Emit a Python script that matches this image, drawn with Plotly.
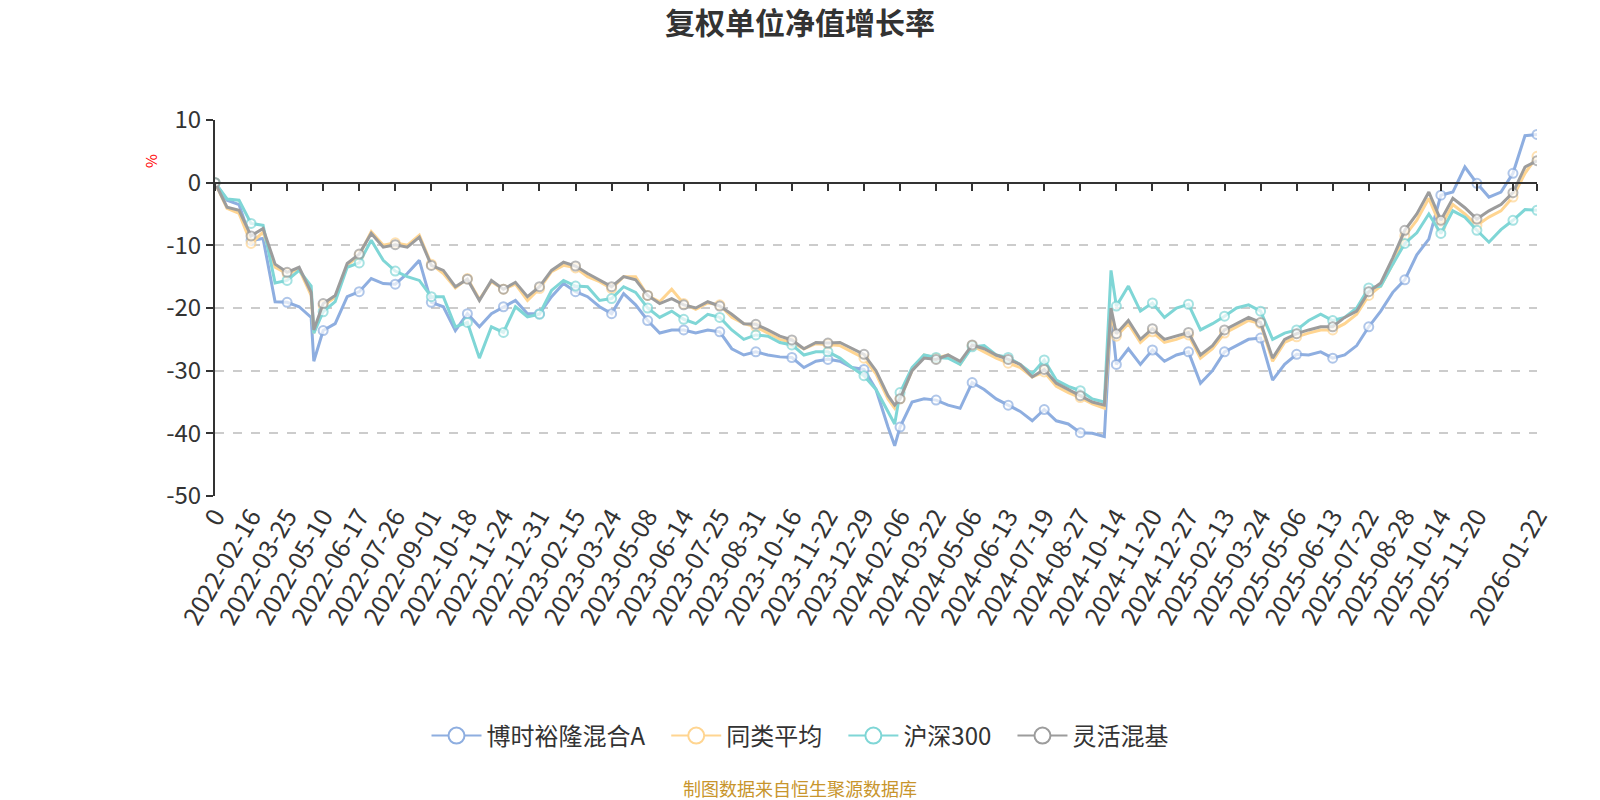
import plotly.graph_objects as go

# ---- data ----
# x: index of the trading day on the category axis (0 = start point "0")
x_idx = [0, 9, 18, 27, 36, 45, 54, 63, 72, 74, 81, 90, 99, 108, 117, 126, 135, 144, 153, 162,
         171, 180, 189, 198, 207, 216, 225, 234, 243, 252, 261, 270, 279, 288, 297, 306, 315, 324,
         333, 342, 351, 360, 369, 378, 387, 396, 405, 414, 423, 432, 441, 450, 459, 468, 477, 486,
         495, 504, 509, 513, 522, 531, 540, 549, 558, 567, 576, 585, 594, 603, 612, 621, 630, 639,
         648, 657, 666, 671, 675, 684, 693, 702, 711, 720, 729, 738, 747, 756, 765, 774, 783, 792,
         801, 810, 819, 828, 837, 846, 855, 864, 873, 882, 891, 900, 909, 918, 927, 936, 945, 954,
         963, 972, 981, 990]

fund = [0, -2.8, -3.5, -9.2, -8.9, -19, -19.1, -19.8, -21.5, -28.5, -23.6, -22.5, -18.2, -17.4,
        -15.3, -16.1, -16.2, -14.5, -12.4, -19.1, -19.8, -23.6, -20.9, -23, -20.9, -19.8, -18.8,
        -20.9, -20.9, -18.2, -16.1, -17.4, -18.2, -19.8, -20.9, -17.7, -19.5, -22, -24, -23.5,
        -23.5, -24, -23.5, -23.8, -26.5, -27.5, -27, -27.5, -27.8, -27.9, -29.5, -28.5, -28.2,
        -28.5, -29.5, -29.8, -33, -39, -42, -39, -35, -34.5, -34.7, -35.5, -36, -31.9, -33, -34.5,
        -35.5, -36.5, -38, -36.2, -38, -38.5, -39.9, -40, -40.5, -21, -29, -26.5, -29, -26.7,
        -28.5, -27.5, -27, -32, -30, -27, -26, -25, -24.8, -31.5, -29, -27.4, -27.5, -27, -28,
        -27.5, -26, -23, -20.5, -17.5, -15.5, -11.5, -9, -2, -1.5, 2.5, -0.1, -2.3, -1.5, 1.5,
        7.5, 7.7]

peer_avg = [0, -4.1, -4.9, -9.7, -7.9, -13.5, -14.5, -13.8, -18, -24, -19.6, -18.3, -13.2, -11.6,
            -7.8, -10, -9.6, -10, -8.4, -13, -14.5, -16.8, -15.3, -18.6, -15.8, -17, -16.2, -18.8,
            -16.9, -14.2, -13.2, -13.6, -15, -15.8, -16.9, -15, -15, -18, -19, -17, -19.3, -20.2,
            -19.2, -19.5, -21.5, -22.5, -23, -24, -25, -25.5, -26.5, -25.7, -25.8, -26, -27, -28,
            -30.5, -34.5, -36, -34.5, -30, -27.5, -28, -27.5, -29, -26, -27, -28, -28.8, -29.5,
            -31, -30.2, -32.5, -33.5, -34.3, -35.3, -36, -21, -24.5, -22.5, -25.5, -23.8, -25.5,
            -25, -24.3, -28, -26.5, -24, -23, -22, -22.5, -28.5, -25.5, -24.6, -24, -23.5, -23.5,
            -22.5, -21, -18, -16.5, -13, -8.5, -6, -2.5, -7, -3.5, -5, -6.8, -5.5, -4.5, -2.3,
            1.5, 4.2]

hs300 = [0, -2.6, -2.8, -6.5, -6.8, -16, -15.6, -14, -16.5, -24, -20.6, -19, -13.5, -12.8, -9.2,
         -12.4, -14.1, -15, -15.6, -18.2, -18.2, -23, -22.3, -28, -23, -23.9, -19.8, -21.4, -21,
         -17.2, -15.6, -16.5, -16.6, -18.8, -18.5, -16.6, -17.5, -20, -21.5, -20.5, -21.8, -22.5,
         -21, -21.5, -23.5, -25, -24.3, -24.5, -25.5, -25.9, -27.5, -27, -27, -28, -29.5, -30.8,
         -33, -36.5, -38.5, -33.5, -29.5, -27.5, -27.9, -28, -29, -26.2, -26, -27.5, -27.9, -29,
         -30.5, -28.3, -31.5, -32.5, -33.2, -34.5, -35, -14, -19.7, -16.5, -20.5, -19.2, -21.5,
         -20, -19.4, -23.5, -22.5, -21.3, -20, -19.5, -20.5, -25, -24, -23.5, -22, -21, -22,
         -21.5, -20, -16.8, -16.5, -13, -9.7, -8, -5, -8.1, -4.5, -5.5, -7.6, -9.5, -7.5, -6,
         -4.3, -4.4]

flex_mix = [0, -3.9, -4.4, -8.5, -7.3, -13, -14.3, -13.5, -17.5, -23.5, -19.3, -18, -12.9, -11.4,
            -8.1, -10.3, -9.9, -10.3, -8.7, -13.2, -14, -16.6, -15.4, -18.8, -15.6, -17, -15.9,
            -18.2, -16.6, -14, -12.7, -13.3, -14.5, -15.6, -16.6, -15, -15.5, -18, -19.3, -18.5,
            -19.5, -20, -19, -19.7, -21, -22.5, -22.6, -23.5, -24.5, -25.1, -26.5, -25.5, -25.6,
            -25.5, -26.5, -27.4, -30, -34, -35.5, -34.5, -30, -28, -28.2, -27.5, -28.5, -25.9,
            -26.5, -27.5, -28.2, -29, -31, -29.8, -32, -33, -34, -35, -35.5, -20, -24.1, -22, -25,
            -23.3, -25, -24.5, -23.9, -27.5, -26, -23.5, -22.5, -21.5, -22.3, -28, -25, -24.1,
            -23.5, -23, -23, -21.5, -20.5, -17.4, -16, -12, -7.6, -5, -1.5, -6, -2.5, -4, -5.8,
            -4.5, -3.5, -1.6, 2.5, 3.5]

# tick labels of the category axis
tick_idx = [0, 27, 54, 81, 108, 135, 162, 189, 216, 243, 270, 297, 324, 351, 378, 405, 432, 459,
            486, 513, 540, 567, 594, 621, 648, 675, 702, 729, 756, 783, 810, 837, 864, 891, 918,
            945, 972, 990]
tick_text = ['0', '2022-02-16', '2022-03-25', '2022-05-10', '2022-06-17', '2022-07-26',
             '2022-09-01', '2022-10-18', '2022-11-24', '2022-12-31', '2023-02-15', '2023-03-24',
             '2023-05-08', '2023-06-14', '2023-07-25', '2023-08-31', '2023-10-16', '2023-11-22',
             '2023-12-29', '2024-02-06', '2024-03-22', '2024-05-06', '2024-06-13', '2024-07-19',
             '2024-08-27', '2024-10-14', '2024-11-20', '2024-12-27', '2025-02-13', '2025-03-24',
             '2025-05-06', '2025-06-13', '2025-07-22', '2025-08-28', '2025-10-14', '2025-11-20',
             '', '2026-01-22']

y_ticks = [-50, -40, -30, -20, -10, 0, 10]
y_labels = ['-50', '-40', '-30', '-20', '-10', '0', '10']

series = [
    ('博时裕隆混合A', fund, '#8eaee0'),
    ('同类平均', peer_avg, '#ffd591'),
    ('沪深300', hs300, '#7fd6d6'),
    ('灵活混基', flex_mix, '#9c9c9c'),
]

FONT = 'Noto Sans CJK SC, Noto Sans, sans-serif'
PAD = '\u00a0\u00a0\u00a0'  # a bit of room between legend entries

# hollow markers only on the labelled positions (and the last point)
marker_sizes = [9 if (v % 27 == 0 or v == x_idx[-1]) else 0 for v in x_idx]

fig = go.Figure()

for name, vals, color in series:
    assert len(vals) == len(x_idx), name
    fig.add_trace(go.Scatter(
        x=x_idx, y=vals, name=name, mode='lines+markers',
        line=dict(color=color, width=3),
        marker=dict(size=marker_sizes, color='white', symbol='circle',
                    line=dict(color=color, width=2)),
        showlegend=False, hoverinfo='skip'
    ))

# legend entries (bigger hollow circles like the reference)
for i, (name, vals, color) in enumerate(series):
    fig.add_trace(go.Scatter(
        x=[None], y=[None], name=name + (PAD if i < 3 else ''), mode='lines+markers',
        line=dict(color=color, width=2),
        marker=dict(size=16, color='white', line=dict(color=color, width=2)),
        showlegend=True
    ))

# invisible trace that carries the axis drawn on the zero line
fig.add_trace(go.Scatter(x=[x_idx[0], x_idx[-1]], y=[0, 0], xaxis='x2', mode='lines',
                         line=dict(width=0), opacity=0, showlegend=False, hoverinfo='skip'))

fig.update_layout(
    width=1600, height=800,
    paper_bgcolor='white', plot_bgcolor='white',
    font=dict(family=FONT, color='#333333'),
    margin=dict(l=215, r=63, t=120, b=303.5),
    title=dict(text='<b>复权单位净值增长率</b>', x=0.5, xanchor='center',
               yref='container', y=1 - 23 / 800, yanchor='middle',
               font=dict(size=30, color='#333333', family=FONT)),
    xaxis=dict(range=[x_idx[0], x_idx[-1]], tickmode='array', tickvals=tick_idx,
               ticktext=tick_text, tickangle=-60, tickfont=dict(size=25, color='#333333'),
               showgrid=False, zeroline=False, showline=False, ticks=''),
    xaxis2=dict(overlaying='x', anchor='free', position=50 / 60, side='bottom',
                range=[x_idx[0], x_idx[-1]], tickmode='array', tickvals=tick_idx,
                showticklabels=False, ticks='outside', ticklen=7, tickwidth=2,
                tickcolor='#333333', showline=True, linecolor='#333333', linewidth=2,
                showgrid=False, zeroline=False),
    yaxis=dict(range=[-50, 10], tickmode='array', tickvals=y_ticks, ticktext=y_labels,
               tickfont=dict(size=24, color='#333333'),
               showgrid=True, gridcolor='#cccccc', gridwidth=1.5, griddash='dash',
               zeroline=True, zerolinecolor='#333333', zerolinewidth=2,
               showline=True, linecolor='#333333', linewidth=2,
               ticks='outside', ticklen=7, tickwidth=2, tickcolor='#333333'),
    legend=dict(orientation='h', xref='container', yref='container',
                x=0.5, xanchor='center', y=1 - 736 / 800, yanchor='middle',
                font=dict(size=24, color='#333333'), itemsizing='trace', itemwidth=50),
    annotations=[
        dict(text='%', xref='paper', yref='paper', x=(151 - 215) / 1322, y=(496.5 - 161) / 376.5,
             xanchor='center', yanchor='middle',
             showarrow=False, textangle=-90, font=dict(size=15, color='red')),
        dict(text='制图数据来自恒生聚源数据库', xref='paper', yref='paper',
             x=(800 - 215) / 1322, y=(496.5 - 789) / 376.5, xanchor='center', yanchor='middle',
             showarrow=False, font=dict(size=18, color='#c8952c')),
    ],
    hovermode=False,
)

# the page body has a default 8px margin; drop it so the figure sits at the window's corner
fig.write_html('out.html', config={'displayModeBar': False},
               post_script="document.body.style.margin='0';")
